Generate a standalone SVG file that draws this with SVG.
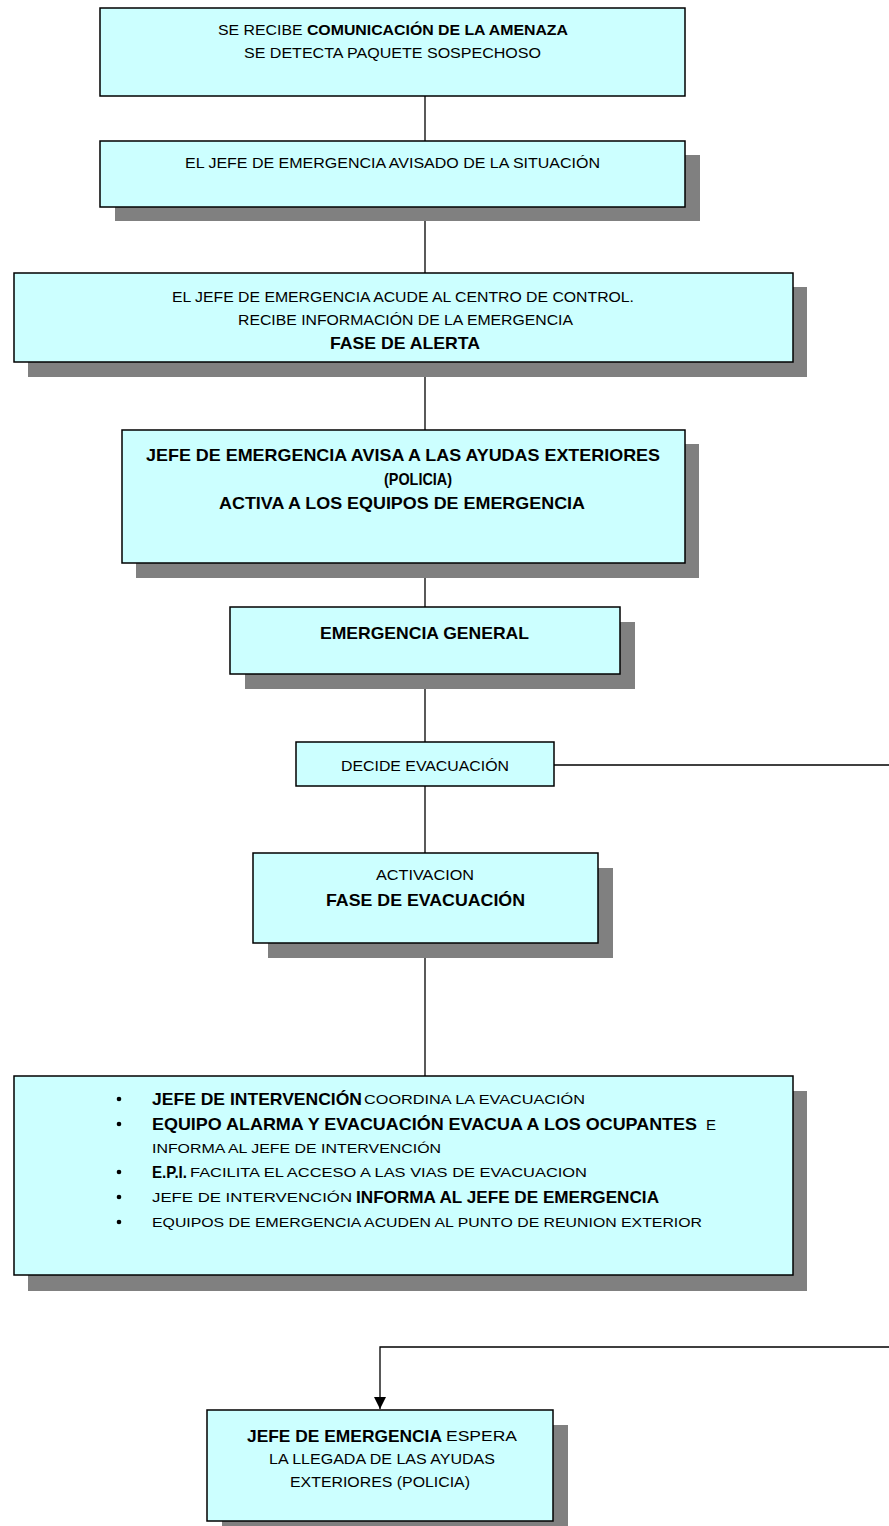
<svg xmlns="http://www.w3.org/2000/svg" width="889" height="1526" viewBox="0 0 889 1526">
<style>
.box{fill:#CCFFFF;stroke:#000;stroke-width:1.5}
.sh{fill:#808080}
.t{font-family:"Liberation Sans",Arial,sans-serif;font-size:14px;fill:#000}
.b{font-family:"Liberation Sans",Arial,sans-serif;font-size:17px;font-weight:bold;fill:#000}
.s{font-size:13px}
.c{stroke:#000;stroke-width:1.3;fill:none}
</style>
<defs>
<marker id="arr" markerWidth="12" markerHeight="12" refX="10" refY="5" orient="auto" markerUnits="userSpaceOnUse" viewBox="0 0 10 10">
<path d="M0,0 L10,5 L0,10 z" fill="#000"/>
</marker>
</defs>
<rect width="889" height="1526" fill="#fff"/>
<g id="connectors">
<line class="c" x1="425" y1="96" x2="425" y2="141"/>
<line class="c" x1="425" y1="207" x2="425" y2="273"/>
<line class="c" x1="425" y1="362" x2="425" y2="430"/>
<line class="c" x1="425" y1="563" x2="425" y2="607"/>
<line class="c" x1="425" y1="674" x2="425" y2="742"/>
<line class="c" x1="425" y1="786" x2="425" y2="853"/>
<line class="c" x1="425" y1="943" x2="425" y2="1076"/>
<line class="c" x1="554" y1="765" x2="889" y2="765"/>
<polyline class="c" points="889,1347 380,1347 380,1409" marker-end="url(#arr)"/>
</g>
<g id="n1">
<rect class="box" x="100" y="8" width="585" height="88"/>
<text class="t" x="218" y="35" textLength="350" lengthAdjust="spacingAndGlyphs">SE RECIBE <tspan font-weight="bold">COMUNICACIÓN DE LA AMENAZA</tspan></text>
<text class="t" x="244" y="58" textLength="297" lengthAdjust="spacingAndGlyphs">SE DETECTA PAQUETE SOSPECHOSO</text>
</g>
<g id="n2">
<rect class="sh" x="115" y="155" width="585" height="66"/>
<rect class="box" x="100" y="141" width="585" height="66"/>
<text class="t" x="185" y="168" textLength="415" lengthAdjust="spacingAndGlyphs">EL JEFE DE EMERGENCIA AVISADO DE LA SITUACIÓN</text>
</g>
<g id="n3">
<rect class="sh" x="28" y="287" width="779" height="90"/>
<rect class="box" x="14" y="273" width="779" height="89"/>
<text class="t" x="172" y="302" textLength="462" lengthAdjust="spacingAndGlyphs">EL JEFE DE EMERGENCIA ACUDE AL CENTRO DE CONTROL.</text>
<text class="t" x="238" y="325" textLength="335" lengthAdjust="spacingAndGlyphs">RECIBE INFORMACIÓN DE LA EMERGENCIA</text>
<text class="b" x="330" y="349" textLength="150" lengthAdjust="spacingAndGlyphs">FASE DE ALERTA</text>
</g>
<g id="n4">
<rect class="sh" x="136" y="444" width="563" height="134"/>
<rect class="box" x="122" y="430" width="563" height="133"/>
<text class="b" x="146" y="461" textLength="514" lengthAdjust="spacingAndGlyphs">JEFE DE EMERGENCIA AVISA A LAS AYUDAS EXTERIORES</text>
<text class="b" x="384" y="485" textLength="68" lengthAdjust="spacingAndGlyphs">(POLICIA)</text>
<text class="b" x="219" y="509" textLength="366" lengthAdjust="spacingAndGlyphs">ACTIVA A LOS EQUIPOS DE EMERGENCIA</text>
</g>
<g id="n5">
<rect class="sh" x="245" y="622" width="390" height="67"/>
<rect class="box" x="230" y="607" width="390" height="67"/>
<text class="b" x="320" y="639" textLength="209" lengthAdjust="spacingAndGlyphs">EMERGENCIA GENERAL</text>
</g>
<g id="n6">
<rect class="box" x="296" y="742" width="258" height="44"/>
<text class="t" x="341" y="771" textLength="168" lengthAdjust="spacingAndGlyphs">DECIDE EVACUACIÓN</text>
</g>
<g id="n7">
<rect class="sh" x="268" y="868" width="345" height="90"/>
<rect class="box" x="253" y="853" width="345" height="90"/>
<text class="t" x="376" y="880" textLength="98" lengthAdjust="spacingAndGlyphs">ACTIVACION</text>
<text class="b" x="326" y="906" textLength="199" lengthAdjust="spacingAndGlyphs">FASE DE EVACUACIÓN</text>
</g>
<g id="n8">
<rect class="sh" x="28" y="1091" width="779" height="200"/>
<rect class="box" x="14" y="1076" width="779" height="199"/>
<g fill="#000">
<circle cx="119" cy="1099" r="2.3"/>
<circle cx="119" cy="1124" r="2.3"/>
<circle cx="119" cy="1172" r="2.3"/>
<circle cx="119" cy="1197" r="2.3"/>
<circle cx="119" cy="1222" r="2.3"/>
</g>
<text class="b" x="152" y="1105" textLength="210" lengthAdjust="spacingAndGlyphs">JEFE DE INTERVENCIÓN</text>
<text class="t s" x="364" y="1104" textLength="221" lengthAdjust="spacingAndGlyphs">COORDINA LA EVACUACIÓN</text>
<text class="b" x="152" y="1130" textLength="545" lengthAdjust="spacingAndGlyphs">EQUIPO ALARMA Y EVACUACIÓN EVACUA A LOS OCUPANTES</text>
<text class="t" x="706" y="1130" textLength="10" lengthAdjust="spacingAndGlyphs">E</text>
<text class="t s" x="152" y="1153" textLength="289" lengthAdjust="spacingAndGlyphs">INFORMA AL JEFE DE INTERVENCIÓN</text>
<text class="b" x="152" y="1178" textLength="35" lengthAdjust="spacingAndGlyphs">E.P.I.</text>
<text class="t s" x="190" y="1177" textLength="397" lengthAdjust="spacingAndGlyphs">FACILITA EL ACCESO A LAS VIAS DE EVACUACION</text>
<text class="t s" x="152" y="1202" textLength="200" lengthAdjust="spacingAndGlyphs">JEFE DE INTERVENCIÓN</text>
<text class="b" x="356" y="1203" textLength="303" lengthAdjust="spacingAndGlyphs">INFORMA AL JEFE DE EMERGENCIA</text>
<text class="t s" x="152" y="1227" textLength="550" lengthAdjust="spacingAndGlyphs">EQUIPOS DE EMERGENCIA ACUDEN AL PUNTO DE REUNION EXTERIOR</text>
</g>
<g id="n9">
<rect class="sh" x="222" y="1425" width="346" height="111"/>
<rect class="box" x="207" y="1410" width="346" height="111"/>
<text class="b" x="247" y="1442" font-size="16" textLength="195" lengthAdjust="spacingAndGlyphs">JEFE DE EMERGENCIA</text>
<text class="t" x="446" y="1441" textLength="71" lengthAdjust="spacingAndGlyphs">ESPERA</text>
<text class="t" x="269" y="1464" textLength="226" lengthAdjust="spacingAndGlyphs">LA LLEGADA DE LAS AYUDAS</text>
<text class="t" x="290" y="1487" textLength="180" lengthAdjust="spacingAndGlyphs">EXTERIORES (POLICIA)</text>
</g>
</svg>
